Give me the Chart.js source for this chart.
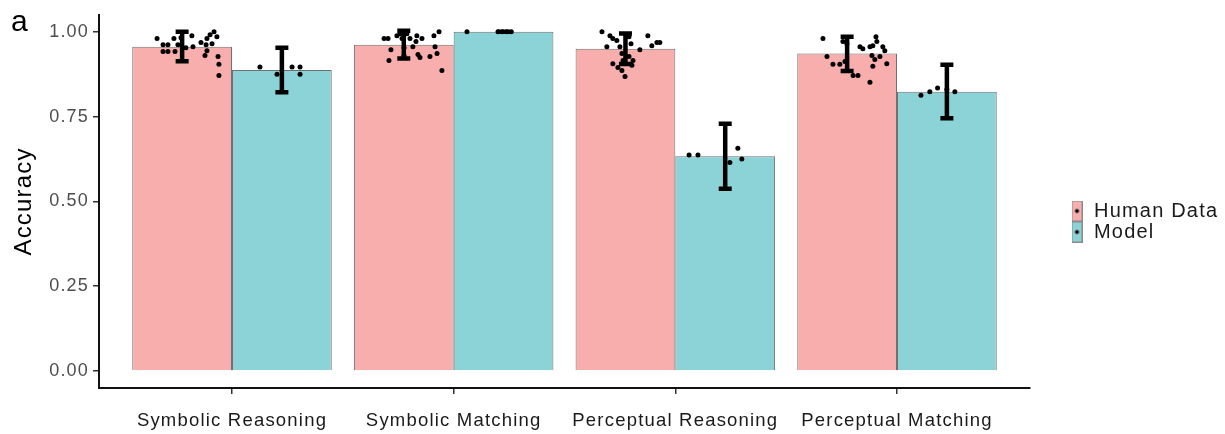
<!DOCTYPE html>
<html>
<head>
<meta charset="utf-8">
<script src="https://cdn.jsdelivr.net/npm/chart.js@4.4.1/dist/chart.umd.min.js"></script>
<style>
    html, body { margin: 0; padding: 0; background: #fff; }
    #wrap { width: 1225px; height: 434px; position: relative; }
</style>
</head>
<body>
<div id="wrap"><canvas id="accuracy"></canvas></div>
<script>
const categories = ["Symbolic Reasoning", "Symbolic Matching", "Perceptual Reasoning", "Perceptual Matching"];
const seriesNames = ["Human Data", "Model"];
const humanMean = [0.956, 0.962, 0.950, 0.936];
const modelMean = [0.887, 1.000, 0.633, 0.823];
const humanLow = [0.913, 0.921, 0.905, 0.884];
const humanHigh = [1.000, 1.003, 0.995, 0.985];
const modelLow = [0.822, 1.000, 0.537, 0.745];
const modelHigh = [0.953, 1.000, 0.729, 0.903];
const yTicks = [0, 0.25, 0.5, 0.75, 1];

// single observations: [category position incl. jitter, accuracy]
const humanPoints = [
    [0.662, 0.980], [0.689, 0.962], [0.711, 0.962], [0.738, 0.980], [0.689, 0.942], [0.711, 0.942],
    [0.743, 0.942], [0.756, 0.962], [0.819, 0.988], [0.824, 0.956], [0.887, 0.980], [0.901, 0.991],
    [0.919, 1.000], [0.932, 0.985], [0.883, 0.962], [0.910, 0.965], [0.887, 0.944], [0.878, 0.930],
    [0.937, 0.927], [0.941, 0.904], [0.941, 0.871], [0.792, 0.953], [0.770, 0.982], [0.860, 0.968],
    [1.686, 0.980], [1.704, 0.980], [1.717, 0.947], [1.708, 0.915], [1.744, 0.988], [1.758, 0.994],
    [1.767, 0.980], [1.789, 0.994], [1.803, 0.980], [1.816, 0.956], [1.834, 0.988], [1.830, 0.971],
    [1.857, 0.980], [1.848, 0.924], [1.839, 0.933], [1.893, 0.927], [1.916, 0.956], [1.925, 0.936],
    [1.911, 0.988], [1.934, 1.000], [1.947, 0.886], [1.776, 0.953], [1.776, 0.930],
    [2.669, 1.000], [2.705, 0.988], [2.718, 0.980], [2.736, 0.974], [2.691, 0.956], [2.750, 0.956],
    [2.759, 0.936], [2.764, 0.915], [2.718, 0.906], [2.759, 0.886], [2.773, 0.868], [2.804, 0.901],
    [2.809, 0.915], [2.840, 0.947], [2.876, 0.988], [2.894, 0.959], [2.917, 0.968], [2.930, 0.968],
    [2.800, 0.965], [2.791, 0.927], [2.741, 0.895], [2.791, 0.985],
    [3.666, 0.980], [3.684, 0.927], [3.711, 0.904], [3.742, 0.904], [3.756, 0.971], [3.824, 0.871],
    [3.833, 0.956], [3.846, 0.950], [3.878, 0.956], [3.887, 0.930], [3.891, 0.959], [3.905, 0.985],
    [3.909, 0.971], [3.936, 0.956], [3.945, 0.944], [3.923, 0.927], [3.900, 0.918], [3.891, 0.898],
    [3.954, 0.906], [3.878, 0.851], [3.802, 0.871], [3.774, 0.965], [3.765, 0.912]
];
const modelPoints = [
    [1.126, 0.896], [1.203, 0.875], [1.271, 0.896], [1.307, 0.896], [1.307, 0.875],
    [2.060, 1.000], [2.200, 1.000], [2.220, 1.000], [2.240, 1.000], [2.260, 1.000],
    [3.062, 0.637], [3.102, 0.637], [3.282, 0.657], [3.300, 0.625], [3.246, 0.615],
    [4.108, 0.813], [4.148, 0.823], [4.183, 0.834], [4.261, 0.823], [4.225, 0.830]
];

const fills = ["rgb(247, 174, 173)", "rgb(139, 211, 215)"];

Chart.defaults.font.family = '"Liberation Sans", Arial, sans-serif';

function keyImage(fill) {
    const c = document.createElement("canvas");
    c.width = 11;
    c.height = 21;
    const g = c.getContext("2d");
    g.fillStyle = fill;
    g.fillRect(0, 0, 11, 21);
    g.strokeStyle = "#8a8a8a";
    g.lineWidth = 1;
    g.strokeRect(0.5, 0.5, 10, 20);
    g.fillStyle = "#000";
    g.beginPath();
    g.arc(5.5, 10.5, 2, 0, Math.PI * 2);
    g.fill();
    return c;
}
const keys = fills.map(keyImage);

// the original text is set a little wider than plain Arial
const spacing = {
    id: "spacing",
    beforeUpdate(chart) { chart.ctx.letterSpacing = "1.2px"; },
    beforeDraw(chart) { chart.ctx.letterSpacing = "1.2px"; }
};

const errorBars = {
    id: "errorBars",
    afterDatasetsDraw(chart) {
        const ctx = chart.ctx;
        const y = chart.scales.y;
        [[humanLow, humanHigh, 0], [modelLow, modelHigh, 1]].forEach(([lo, hi, di]) => {
            chart.getDatasetMeta(di).data.forEach((bar, i) => {
                const cx = bar.x;
                const yt = y.getPixelForValue(hi[i]);
                const yb = y.getPixelForValue(lo[i]);
                ctx.save();
                ctx.strokeStyle = "#000";
                ctx.lineWidth = 4.5;
                ctx.beginPath();
                ctx.moveTo(cx, yt);
                ctx.lineTo(cx, yb);
                ctx.moveTo(cx - 6.5, yt);
                ctx.lineTo(cx + 6.5, yt);
                ctx.moveTo(cx - 6.5, yb);
                ctx.lineTo(cx + 6.5, yb);
                ctx.stroke();
                ctx.restore();
            });
        });
    }
};

const panelLabel = {
    id: "panelLabel",
    afterDraw(chart) {
        const ctx = chart.ctx;
        ctx.save();
        ctx.font = '30px "Liberation Sans", Arial, sans-serif';
        ctx.fillStyle = "#000";
        ctx.textBaseline = "alphabetic";
        ctx.fillText("a", 11, 31);
        ctx.restore();
    }
};

const ctx = document.getElementById("accuracy").getContext("2d");
const chart = new Chart(ctx, {
    type: "bar",
    data: {
        datasets: [
            {
                type: "bar",
                label: seriesNames[0],
                data: categories.map((c, i) => ({ x: i + 1, y: humanMean[i] })),
                backgroundColor: fills[0],
                borderColor: "#707070",
                borderWidth: 1,
                order: 2,
            },
            {
                type: "bar",
                label: seriesNames[1],
                data: categories.map((c, i) => ({ x: i + 1, y: modelMean[i] })),
                backgroundColor: fills[1],
                borderColor: "#707070",
                borderWidth: 1,
                order: 2,
            },
            {
                type: "scatter",
                label: "human points",
                data: humanPoints.map(([x, y]) => ({ x, y })),
                pointRadius: 2.5,
                pointBackgroundColor: "#000",
                pointBorderWidth: 0,
                order: 1,
            },
            {
                type: "scatter",
                label: "model points",
                data: modelPoints.map(([x, y]) => ({ x, y })),
                pointRadius: 2.5,
                pointBackgroundColor: "#000",
                pointBorderWidth: 0,
                order: 1,
            },
        ],
    },
    options: {
        responsive: true,
        maintainAspectRatio: false,
        animation: false,
        events: [],
        barPercentage: 1,
        categoryPercentage: 0.9,
        layout: { padding: { top: 13, right: 0, bottom: 4, left: 0 } },
        plugins: {
            tooltip: { enabled: false },
            legend: {
                position: "right",
                align: "center",
                maxWidth: 156,
                labels: {
                    usePointStyle: true,
                    pointStyleWidth: 14,
                    padding: 1,
                    color: "#1a1a1a",
                    font: { size: 20 },
                    generateLabels: () => seriesNames.map((name, i) => ({
                        text: name,
                        pointStyle: keys[i],
                        fillStyle: fills[i],
                        strokeStyle: "transparent",
                        lineWidth: 0,
                        hidden: false,
                        datasetIndex: i,
                        fontColor: "#1a1a1a",
                    })),
                },
            },
        },
        scales: {
            x: {
                type: "linear",
                offset: false,
                min: 0.4,
                max: 4.6,
                afterBuildTicks: (s) => { s.ticks = categories.map((c, i) => ({ value: i + 1 })); },
                afterFit: (s) => { s.height = 42; },
                ticks: {
                    callback: (v) => categories[v - 1],
                    autoSkip: false,
                    maxRotation: 0,
                    color: "#1a1a1a",
                    font: { size: 18.5 },
                    padding: 16,
                },
                grid: { offset: false, drawOnChartArea: false, tickLength: 6, color: "#333", lineWidth: 1.5 },
                border: { color: "#111", width: 2 },
            },
            y: {
                min: -0.05,
                max: 1.05,
                afterBuildTicks: (s) => { s.ticks = yTicks.map((v) => ({ value: v })); },
                afterFit: (s) => { s.width = 99; },
                ticks: {
                    callback: (v) => v.toFixed(2),
                    color: "#4d4d4d",
                    font: { size: 18 },
                    padding: 4,
                },
                grid: { drawOnChartArea: false, tickLength: 6, color: "#333", lineWidth: 1.5 },
                border: { color: "#111", width: 2 },
                title: {
                    display: true,
                    text: "Accuracy",
                    color: "#000",
                    font: { size: 24 },
                    padding: { top: 10, bottom: 0 },
                },
            },
            y2: {
                type: "linear",
                position: "right",
                ticks: { display: false },
                grid: { display: false },
                border: { display: false },
                afterFit: (s) => { s.width = 39; },
            },
        },
    },
    plugins: [spacing, errorBars, panelLabel],
});
</script>
</body>
</html>
